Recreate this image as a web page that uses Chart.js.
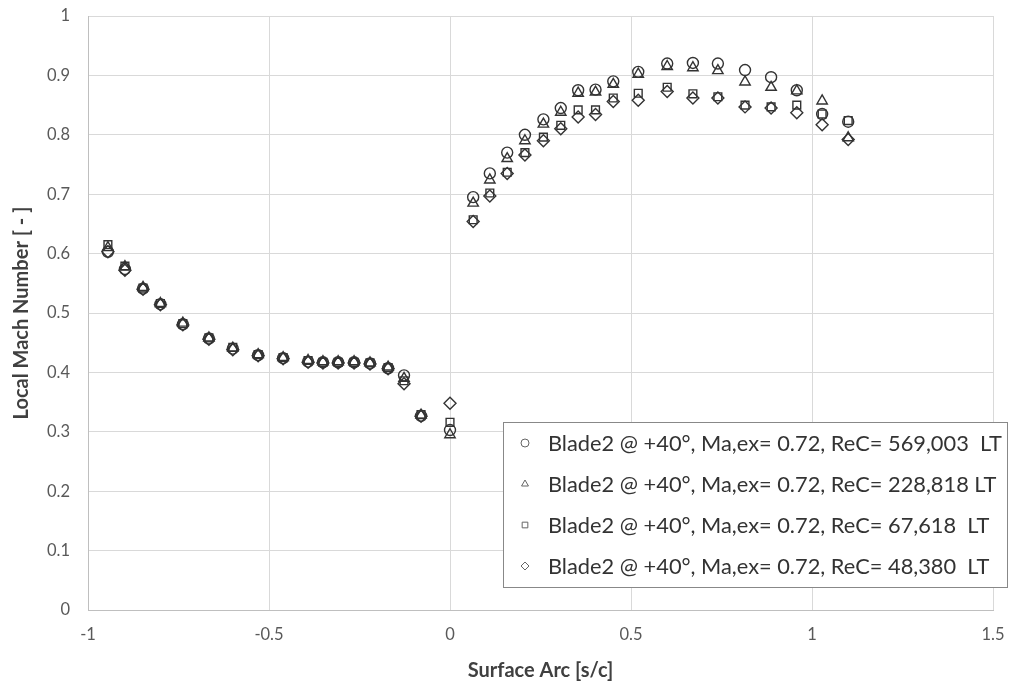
<!DOCTYPE html>
<html>
<head>
<meta charset="utf-8">
<script src="https://cdn.jsdelivr.net/npm/chart.js@4/dist/chart.umd.min.js"></script>
<style>
  html, body { margin: 0; padding: 0; background: #fff; }
  #wrap { width: 1023px; height: 687px; }
</style>
</head>
<body>
<div id="wrap"><canvas id="chart"></canvas></div>
<script>
// 表面弧长位置 s/c（四组数据共用）
const surfaceArc = [
    -0.945, -0.898, -0.848, -0.800, -0.738, -0.666, -0.600, -0.530, -0.461,
    -0.392, -0.351, -0.309, -0.265, -0.221, -0.171, -0.127, -0.080, 0.000,
    0.064, 0.110, 0.158, 0.207, 0.258, 0.306, 0.354, 0.402, 0.451,
    0.520, 0.600, 0.671, 0.740, 0.815, 0.887, 0.958, 1.028, 1.100
];

// 各雷诺数下的当地马赫数
const machRe569k = [
    0.603, 0.574, 0.541, 0.515, 0.481, 0.457, 0.440, 0.429, 0.424,
    0.418, 0.417, 0.417, 0.417, 0.415, 0.407, 0.395, 0.327, 0.303,
    0.695, 0.735, 0.770, 0.800, 0.826, 0.845, 0.875, 0.876, 0.890,
    0.906, 0.920, 0.921, 0.920, 0.909, 0.897, 0.875, 0.835, 0.822
];
const machRe228k = [
    0.610, 0.578, 0.543, 0.516, 0.483, 0.458, 0.441, 0.430, 0.425,
    0.420, 0.418, 0.418, 0.418, 0.416, 0.409, 0.390, 0.328, 0.295,
    0.685, 0.724, 0.760, 0.790, 0.818, 0.838, 0.870, 0.872, 0.885,
    0.902, 0.915, 0.913, 0.908, 0.889, 0.880, 0.874, 0.857, 0.795
];
const machRe67k = [
    0.615, 0.579, 0.542, 0.516, 0.482, 0.458, 0.442, 0.430, 0.425,
    0.420, 0.417, 0.417, 0.417, 0.416, 0.408, 0.386, 0.329, 0.316,
    0.657, 0.702, 0.737, 0.770, 0.796, 0.816, 0.842, 0.842, 0.862,
    0.870, 0.880, 0.869, 0.864, 0.850, 0.847, 0.850, 0.835, 0.824
];
const machRe48k = [
    0.603, 0.572, 0.540, 0.514, 0.480, 0.456, 0.438, 0.428, 0.423,
    0.417, 0.416, 0.416, 0.416, 0.414, 0.406, 0.381, 0.326, 0.348,
    0.654, 0.697, 0.735, 0.766, 0.790, 0.810, 0.830, 0.834, 0.856,
    0.858, 0.873, 0.862, 0.862, 0.847, 0.845, 0.837, 0.817, 0.792
];

const seriesLabels = [
    'Blade2 @ +40°, Ma,ex= 0.72, ReC= 569,003  LT',
    'Blade2 @ +40°, Ma,ex= 0.72, ReC= 228,818 LT',
    'Blade2 @ +40°, Ma,ex= 0.72, ReC= 67,618  LT',
    'Blade2 @ +40°, Ma,ex= 0.72, ReC= 48,380  LT'
];
const seriesValues = [machRe569k, machRe228k, machRe67k, machRe48k];
const markerStyles = ['circle', 'triangle', 'rect', 'rectRot'];
const markerSizes = [5.5, 6, 5.5, 6];

const FONT = 'Lato, "Open Sans", sans-serif';

function toPoints(ys) {
    return ys.map((y, i) => ({ x: surfaceArc[i], y: y }));
}

const datasets = seriesValues.map((ys, k) => ({
    label: seriesLabels[k],
    data: toPoints(ys),
    pointStyle: markerStyles[k],
    pointRadius: markerSizes[k],
    pointBorderColor: '#333',
    pointBackgroundColor: 'rgba(0,0,0,0)',
    pointBorderWidth: 1.4,
    showLine: false
}));

// 图内右下角图例
const boxLegend = {
    id: 'boxLegend',
    afterDraw(chart) {
        const ctx = chart.ctx;
        const left = 503, top = 422, right = 1007, bottom = 587;
        ctx.save();
        ctx.fillStyle = '#fff';
        ctx.fillRect(left, top, right - left, bottom - top);
        ctx.strokeStyle = '#888';
        ctx.lineWidth = 1;
        ctx.strokeRect(left + 0.5, top + 0.5, right - left, bottom - top);
        ctx.textBaseline = 'middle';
        ctx.textAlign = 'left';
        const rows = [443, 484, 525, 566];
        rows.forEach((y, k) => {
            ctx.fillStyle = 'rgba(0,0,0,0)';
            ctx.strokeStyle = '#666';
            ctx.lineWidth = 1;
            Chart.helpers.drawPoint(ctx, {
                pointStyle: markerStyles[k],
                radius: 4,
                rotation: 0,
                borderWidth: 1
            }, 525, y);
            ctx.font = '21.8px ' + FONT;
            ctx.fillStyle = '#333';
            ctx.fillText(seriesLabels[k], 548, y + 1);
        });
        ctx.restore();
    }
};

new Chart(document.getElementById('chart'), {
    type: 'scatter',
    data: { datasets: datasets },
    plugins: [boxLegend],
    options: {
        responsive: true,
        maintainAspectRatio: false,
        animation: false,
        layout: { padding: { left: 6, right: 30, top: 16, bottom: 0 } },
        plugins: {
            legend: { display: false },
            tooltip: { enabled: false }
        },
        scales: {
            x: {
                type: 'linear',
                min: -1, max: 1.5,
                ticks: {
                    stepSize: 0.5,
                    color: '#595959',
                    font: { family: FONT, size: 16.5 },
                    padding: 15,
                    callback: v => String(Math.round(v * 10) / 10)
                },
                grid: { color: '#d9d9d9', lineWidth: 1, drawTicks: false },
                border: { color: '#bfbfbf' },
                title: {
                    display: true,
                    text: 'Surface Arc [s/c]',
                    color: '#404040',
                    font: { family: FONT, size: 20, weight: 'bold' },
                    padding: { top: 1 }
                },
                afterFit(scale) { scale.height = 77; }
            },
            y: {
                min: 0, max: 1,
                ticks: {
                    stepSize: 0.1,
                    color: '#595959',
                    font: { family: FONT, size: 16.5 },
                    padding: 18,
                    callback: v => String(Math.round(v * 10) / 10)
                },
                grid: { color: '#d9d9d9', lineWidth: 1, drawTicks: false },
                border: { color: '#bfbfbf' },
                title: {
                    display: true,
                    text: 'Local Mach Number [ - ]',
                    color: '#404040',
                    font: { family: FONT, size: 20, weight: 'bold' },
                    padding: { bottom: 2 }
                },
                afterFit(scale) {
                    scale.width = 82;
                    scale.paddingTop = 0;
                    scale.paddingBottom = 0;
                }
            }
        }
    }
});
</script>
</body>
</html>
